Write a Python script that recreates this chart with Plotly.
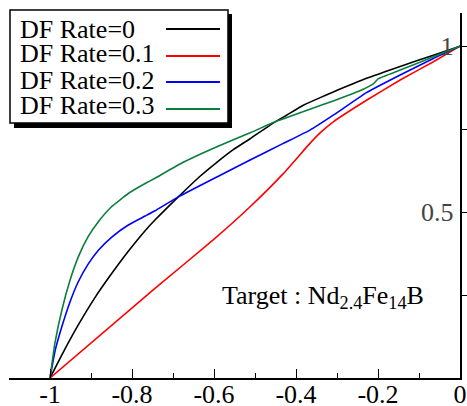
import plotly.graph_objects as go

# ---- data ----
x_rate0 = [-1, -0.971, -0.931, -0.890, -0.850, -0.809, -0.768, -0.744, -0.687, -0.634, -0.593,
           -0.553, -0.512, -0.451, -0.423, -0.382, -0.341, -0.309, -0.228, -0.146, -0.065, 0]
y_rate0 = [0, 0.070, 0.160, 0.243, 0.314, 0.382, 0.444, 0.476, 0.546, 0.608, 0.650,
           0.688, 0.721, 0.772, 0.792, 0.822, 0.845, 0.862, 0.903, 0.939, 0.973, 1.0]

x_rate1 = [-1, -0.744, -0.602, -0.512, -0.431, -0.366, -0.340, -0.309, -0.228, -0.146, -0.065, 0]
y_rate1 = [0, 0.270, 0.416, 0.516, 0.616, 0.707, 0.740, 0.772, 0.837, 0.898, 0.953, 1.0]

x_rate2 = [-1, -0.988, -0.971, -0.951, -0.931, -0.907, -0.882, -0.850, -0.809, -0.768, -0.744,
           -0.687, -0.593, -0.512, -0.431, -0.366, -0.309, -0.228, -0.146, -0.065, 0]
y_rate2 = [0, 0.080, 0.155, 0.230, 0.290, 0.343, 0.385, 0.424, 0.461, 0.488, 0.504,
           0.546, 0.606, 0.657, 0.707, 0.747, 0.792, 0.860, 0.913, 0.963, 1.0]

x_rate3 = [-1, -0.988, -0.971, -0.951, -0.931, -0.907, -0.882, -0.850, -0.809, -0.768, -0.744,
           -0.675, -0.593, -0.512, -0.451, -0.366, -0.309, -0.236, -0.211, -0.199, -0.146,
           -0.065, 0]
y_rate3 = [0, 0.105, 0.205, 0.295, 0.365, 0.426, 0.471, 0.516, 0.556, 0.586, 0.602,
           0.650, 0.697, 0.739, 0.772, 0.810, 0.835, 0.870, 0.887, 0.902, 0.928,
           0.968, 1.0]

series_names = ["DF Rate=0", "DF Rate=0.1", "DF Rate=0.2", "DF Rate=0.3"]
series_colors = ["#000000", "#ff0000", "#0000ff", "#0a7f3c"]

x_tickvals = [-1, -0.8, -0.6, -0.4, -0.2, 0]
x_ticktext = ["-1", "-0.8", "-0.6", "-0.4", "-0.2", "0"]
x_minor = [-1.1, -0.9, -0.7, -0.5, -0.3, -0.1]
y_tickvals = [0.5, 1]
y_ticktext = ["0.5", "1"]
y_minor = [0.25, 0.75]

FONT = "Liberation Serif, Times New Roman, serif"

# plot area in pixels
L, R, T, B = 9, 7, 13, 28
W, H = 467, 406
PW, PH = W - L - R, H - T - B


def px(xp):
    return (xp - L) / PW


def py(yp):
    return (H - B - yp) / PH


fig = go.Figure()
all_x = [x_rate0, x_rate1, x_rate2, x_rate3]
all_y = [y_rate0, y_rate1, y_rate2, y_rate3]
for xs, ys, name, col in zip(all_x, all_y, series_names, series_colors):
    fig.add_trace(go.Scatter(x=xs, y=ys, mode="lines", name=name,
                             line=dict(color=col, width=1.6, shape="spline", smoothing=0.4),
                             showlegend=False, cliponaxis=False))

shapes = []
# legend shadow and box
shapes.append(dict(type="rect", xref="paper", yref="paper",
                   x0=px(14), x1=px(232), y0=py(128), y1=py(14),
                   fillcolor="black", line=dict(width=0), layer="above"))
shapes.append(dict(type="rect", xref="paper", yref="paper",
                   x0=px(10), x1=px(228), y0=py(123), y1=py(10),
                   fillcolor="white", line=dict(color="black", width=1.5), layer="above"))
annotations = []
row_y = [29, 54, 80, 106]
line_y = [29, 56, 82, 109]
for name, col, ry, ly in zip(series_names, series_colors, row_y, line_y):
    annotations.append(dict(x=px(18), y=py(ry), xref="paper", yref="paper",
                            text=name, showarrow=False, xanchor="left", yanchor="middle",
                            font=dict(family=FONT, size=26, color="black")))
    shapes.append(dict(type="line", xref="paper", yref="paper",
                       x0=px(166), x1=px(220), y0=py(ly), y1=py(ly),
                       line=dict(color=col, width=2), layer="above"))

annotations.append(dict(x=px(220), y=py(297), xref="paper", yref="paper",
                        text="Target : Nd<sub>2.4</sub>Fe<sub>14</sub>B", showarrow=False,
                        xanchor="left", yanchor="middle",
                        font=dict(family=FONT, size=26, color="black")))

fig.update_layout(
    width=W, height=H,
    margin=dict(l=L, r=R, t=T, b=B, pad=0, autoexpand=False),
    paper_bgcolor="white", plot_bgcolor="white",
    font=dict(family=FONT, size=26, color="black"),
    shapes=shapes, annotations=annotations,
    xaxis=dict(range=[-1.1, 0], showgrid=False, zeroline=False, showline=True, automargin=False,
               linecolor="black", linewidth=1.5, ticks="inside", ticklen=9, tickwidth=1.2,
               tickcolor="black", tickvals=x_tickvals, ticktext=x_ticktext,
               tickfont=dict(family=FONT, size=26), ticklabeloverflow="allow",
               ticklabelstandoff=-8,
               minor=dict(tickvals=x_minor, ticks="inside", ticklen=5, tickcolor="black", tickwidth=1.2),
               mirror=False),
    yaxis=dict(range=[0, 1.1], side="right", showgrid=False, zeroline=False, showline=True,
               automargin=False,
               linecolor="black", linewidth=1.5, ticks="outside", ticklen=7, tickwidth=1.2,
               tickcolor="black", tickvals=y_tickvals, ticktext=y_ticktext,
               ticklabelposition="inside", ticklabeloverflow="allow", ticklabelstandoff=9,
               tickfont=dict(family=FONT, size=26),
               minor=dict(tickvals=y_minor, ticks="outside", ticklen=7, tickcolor="black", tickwidth=1.2)),
)

fig.write_html("out.html")
